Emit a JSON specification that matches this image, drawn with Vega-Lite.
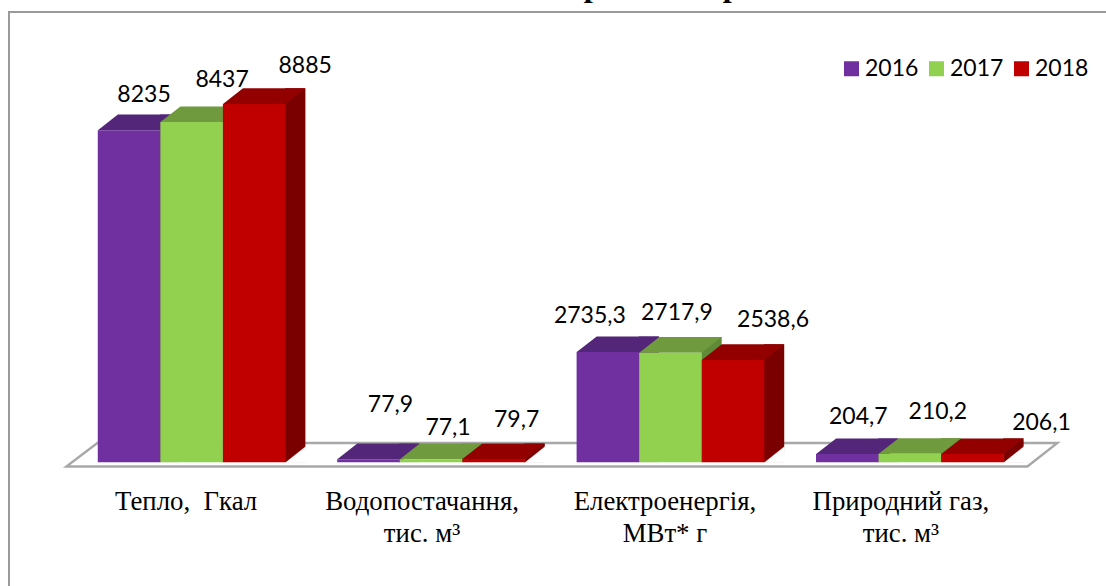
{
  "$schema": "https://vega.github.io/schema/vega-lite/v6.json",
  "autosize": "none",
  "width": 1100,
  "height": 580,
  "padding": {"left": 9, "top": 12, "right": 0, "bottom": 0},
  "background": "white",
  "view": {"stroke": "#9a9a9a", "strokeWidth": 2, "fill": null},
  "config": {
    "text": {"font": "Lato", "fontSize": 23, "color": "#000000"},
    "legend": {"labelFont": "Lato", "labelFontSize": 23, "labelColor": "#000000"}
  },
  "datasets": {
    "usage": [
      {"cat": "Тепло, Гкал", "year": "2016", "value": 8235},
      {"cat": "Тепло, Гкал", "year": "2017", "value": 8437},
      {"cat": "Тепло, Гкал", "year": "2018", "value": 8885},
      {"cat": "Водопостачання", "year": "2016", "value": 77.9},
      {"cat": "Водопостачання", "year": "2017", "value": 77.1},
      {"cat": "Водопостачання", "year": "2018", "value": 79.7},
      {"cat": "Електроенергія", "year": "2016", "value": 2735.3},
      {"cat": "Електроенергія", "year": "2017", "value": 2717.9},
      {"cat": "Електроенергія", "year": "2018", "value": 2538.6},
      {"cat": "Природний газ", "year": "2016", "value": 204.7},
      {"cat": "Природний газ", "year": "2017", "value": 210.2},
      {"cat": "Природний газ", "year": "2018", "value": 206.1}
    ],
    "categories": [
      {"cat": "Тепло, Гкал", "caption": "Тепло,\u00a0\u00a0Гкал", "value": 0, "group": "a"},
      {"cat": "Водопостачання", "caption": "Водопостачання,\nтис. м³", "value": 0, "group": "b"},
      {"cat": "Електроенергія", "caption": "Електроенергія,\nМВт* г", "value": 0, "group": "a"},
      {"cat": "Природний газ", "caption": "Природний газ,\nтис. м³", "value": 0, "group": "b"}
    ],
    "heading": [{"cat": "Електроенергія", "glyph": "р", "value": 10000}]
  },
  "data": {"name": "usage"},
  "transform": [{"calculate": "replace('' + datum.value, '.', ',')", "as": "label"}],
  "encoding": {
    "x": {
      "field": "cat", "type": "nominal", "sort": null, "axis": null,
      "scale": {"range": [63.4, 1020.1], "paddingInner": 0.216, "paddingOuter": 0.106}
    },
    "y": {
      "field": "value", "type": "quantitative", "axis": null, "stack": null,
      "scale": {"domain": [0, 10000], "range": [450.3, 47]}
    },
    "xOffset": {"field": "year", "type": "nominal", "scale": {"type": "band", "domain": ["2016", "2017", "2018"], "paddingInner": 0, "paddingOuter": 0}}
  },
  "layer": [
    {
      "data": {"name": "categories"},
      "transform": [{"filter": "indexof(datum.caption, 'Тепло') == 0"}],
      "mark": {
        "type": "point", "filled": false, "opacity": 1, "fill": "white", "stroke": "#a8a8a8", "strokeWidth": 2.4,
        "strokeJoin": "miter", "size": 4,
        "shape": "M-31.4,4.2L929.6,4.2L959.6,-19.3L-0.4,-19.3Z"
      },
      "encoding": {"xOffset": {"value": 0}}
    },
    {
      "mark": {"type": "bar", "width": 20.4, "yOffset": -15.6, "y2Offset": 0.01},
      "encoding": {
        "xOffset": {
          "field": "year", "type": "nominal",
          "scale": {"type": "band", "domain": ["2016", "2017", "2018"], "range": [41, 228.7], "paddingInner": 0, "paddingOuter": 0}
        },
        "color": {
          "field": "year", "type": "nominal", "legend": null,
          "scale": {"domain": ["2016", "2017", "2018"], "range": ["#54267a", "#5f8a37", "#7a0000"]}
        }
      }
    },
    {
      "mark": {"type": "point", "filled": true, "opacity": 1, "size": 4, "fill": "white", "stroke": "white", "strokeWidth": 0.5,
        "shape": "M31.2,0.5L51.4,-15.6L52.5,0.5Z"},
      "encoding": {"y": {"datum": 0, "type": "quantitative", "axis": null, "scale": {"domain": [0, 10000], "range": [450.3, 47]}}}
    },
    {
      "mark": {"type": "point", "filled": true, "opacity": 1, "size": 4,
        "shape": "M-31.2,0L31.2,0L51.2,-15.6L-11.2,-15.6Z"},
      "encoding": {
        "color": {
          "field": "year", "type": "nominal", "legend": null,
          "scale": {"domain": ["2016", "2017", "2018"], "range": ["#54267a", "#6f9a3e", "#920000"]}
        }
      }
    },
    {
      "mark": {"type": "bar"},
      "encoding": {
        "color": {
          "field": "year", "type": "nominal",
          "scale": {"domain": ["2016", "2017", "2018"], "range": ["#7030a0", "#92d050", "#c00000"]},
          "legend": {
            "title": null, "orient": "none", "legendX": 831, "legendY": 45, "direction": "horizontal",
            "symbolType": "square", "symbolSize": 225, "symbolStrokeWidth": 0, "columns": 3, "columnPadding": 6, "labelOffset": 2
          }
        }
      }
    },
    {"transform": [{"filter": "datum.value == 8235"}], "mark": {"type": "text", "dx": 15, "dy": -35}, "encoding": {"text": {"field": "label"}}},
    {"transform": [{"filter": "datum.value == 8437"}], "mark": {"type": "text", "dx": 30.5, "dy": -42}, "encoding": {"text": {"field": "label"}}},
    {"transform": [{"filter": "datum.value == 8885"}], "mark": {"type": "text", "dx": 51, "dy": -38}, "encoding": {"text": {"field": "label"}}},
    {"transform": [{"filter": "datum.value == 77.9"}], "mark": {"type": "text", "dx": 22, "dy": -54}, "encoding": {"text": {"field": "label"}}},
    {"transform": [{"filter": "datum.value == 77.1"}], "mark": {"type": "text", "dx": 17, "dy": -31}, "encoding": {"text": {"field": "label"}}},
    {"transform": [{"filter": "datum.value == 79.7"}], "mark": {"type": "text", "dx": 23, "dy": -39}, "encoding": {"text": {"field": "label"}}},
    {"transform": [{"filter": "datum.value == 2735.3"}], "mark": {"type": "text", "dx": -18, "dy": -36}, "encoding": {"text": {"field": "label"}}},
    {"transform": [{"filter": "datum.value == 2717.9"}], "mark": {"type": "text", "dx": 6.5, "dy": -40}, "encoding": {"text": {"field": "label"}}},
    {"transform": [{"filter": "datum.value == 2538.6"}], "mark": {"type": "text", "dx": 40, "dy": -40}, "encoding": {"text": {"field": "label"}}},
    {"transform": [{"filter": "datum.value == 204.7"}], "mark": {"type": "text", "dx": 11, "dy": -37}, "encoding": {"text": {"field": "label"}}},
    {"transform": [{"filter": "datum.value == 210.2"}], "mark": {"type": "text", "dx": 28, "dy": -42}, "encoding": {"text": {"field": "label"}}},
    {"transform": [{"filter": "datum.value == 206.1"}], "mark": {"type": "text", "dx": 69, "dy": -31}, "encoding": {"text": {"field": "label"}}},
    {
      "data": {"name": "categories"},
      "transform": [{"filter": "datum.group == 'a'"}],
      "mark": {"type": "text", "font": "Liberation Serif", "fontSize": 26.8, "lineBreak": "\n", "lineHeight": 32, "baseline": "top", "dx": 88.35, "dy": 27},
      "encoding": {"xOffset": {"value": 0}, "text": {"field": "caption"}}
    },
    {
      "data": {"name": "categories"},
      "transform": [{"filter": "datum.group == 'b'"}],
      "mark": {"type": "text", "font": "Liberation Serif", "fontSize": 26.8, "lineBreak": "\n", "lineHeight": 32, "baseline": "top", "dx": 84.85, "dy": 27},
      "encoding": {"xOffset": {"value": 0}, "text": {"field": "caption"}}
    },
    {
      "data": {"name": "heading"},
      "mark": {"type": "text", "font": "Liberation Serif", "fontWeight": "bold", "fontSize": 32, "baseline": "alphabetic", "dx": 16, "dy": -63},
      "encoding": {"xOffset": {"value": 0}, "text": {"field": "glyph"}}
    },
    {
      "data": {"name": "heading"},
      "mark": {"type": "text", "font": "Liberation Serif", "fontWeight": "bold", "fontSize": 32, "baseline": "alphabetic", "dx": 155, "dy": -63},
      "encoding": {"xOffset": {"value": 0}, "text": {"field": "glyph"}}
    }
  ],
  "resolve": {"scale": {"color": "independent", "xOffset": "independent"}}
}
